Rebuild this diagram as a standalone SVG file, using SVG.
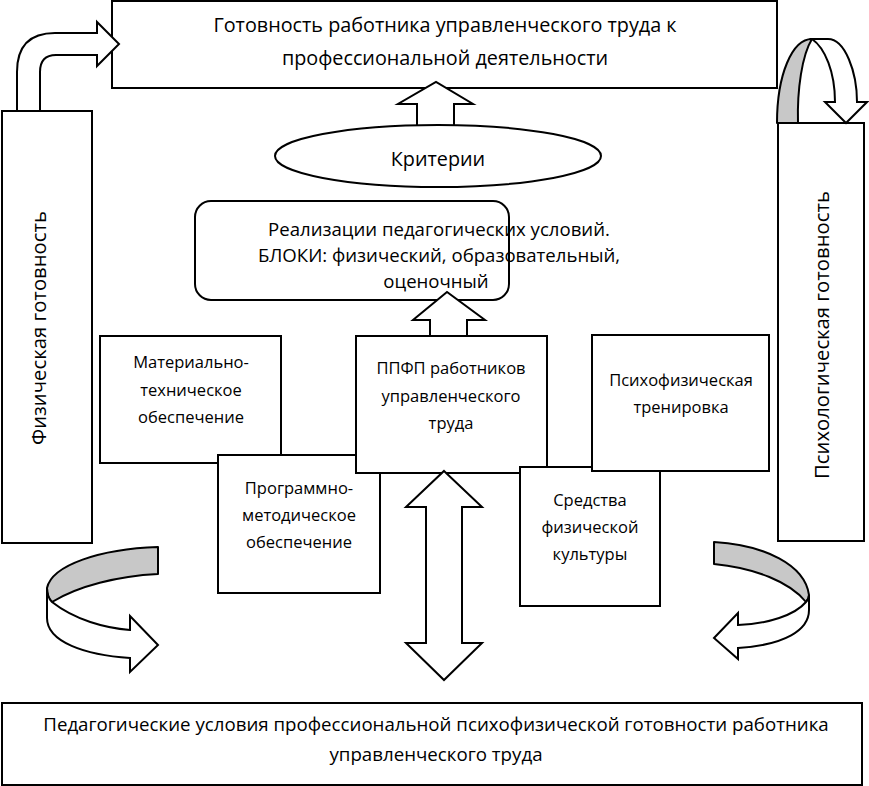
<svg xmlns="http://www.w3.org/2000/svg" width="869" height="786" viewBox="0 0 869 786">
<style>
.b{fill:#fff;stroke:#000;stroke-width:2}
.g{fill:#c8c8c8;stroke:#000;stroke-width:2;stroke-linejoin:round}
.w{fill:#fff;stroke:#000;stroke-width:2;stroke-linejoin:miter}
text{font-family:"Open Sans","Liberation Sans",sans-serif;fill:#000;text-anchor:middle;dominant-baseline:central}
.t{font-size:19.8px}
.v{font-size:20.3px}
.r{font-size:18.6px}
.u{font-size:18.7px}
.s{font-size:16.5px}
</style>
<rect width="869" height="786" fill="#fff"/>
<g id="top">
<rect class="b" x="112" y="1" width="665" height="87"/>
<text class="t" x="445" y="24">Готовность работника управленческого труда к</text>
<text class="t" x="445" y="57">профессиональной деятельности</text>
</g>
<g id="phys">
<rect class="b" x="2" y="111" width="90" height="432"/>
<text class="v" transform="translate(38,328) rotate(-90)">Физическая готовность</text>
</g>
<g id="psych">
<rect class="b" x="778" y="123" width="86" height="418"/>
<text class="v" transform="translate(821,335) rotate(-90)">Психологическая готовность</text>
</g>
<g id="connectors">
<path class="w" d="M17,111 L17,72 Q17,33 55,33 L97,33 L97,22 L119,44 L97,66 L97,55 L56,55 Q40,55 40,72 L40,111 Z"/>
<path class="g" d="M777,123 C777,75 792,39 812,39 C802,55 797,90 798,123 Z"/>
<path class="w" d="M812,39 L828,39 C845,39 857,72 857,102 L867,102 L846,123 L825,102 L835,102 C835,72 825,48 812,39 Z"/>
<path class="w" d="M417,130 L417,104 L398,104 L436,82 L473,104 L454,104 L454,130 Z"/>
</g>
<g id="criteria">
<ellipse class="b" cx="438" cy="156" rx="163" ry="31"/>
<text class="t" x="438" y="158">Критерии</text>
</g>
<g id="realization">
<rect class="b" x="195" y="201" width="314" height="99" rx="16"/>
<text class="r" x="439" y="228">Реализации педагогических условий.</text>
<text class="r" x="439" y="254">БЛОКИ: физический, образовательный,</text>
<text class="r" x="436" y="280">оценочный</text>
</g>
<g id="connectors1">
<path class="w" d="M430,336 L430,320 L413,320 L447,292 L485,320 L467,320 L467,336 Z"/>
</g>
<g id="material">
<rect class="b" x="100" y="336" width="181" height="127"/>
<text class="s" x="191" y="361">Материально-</text>
<text class="s" x="191" y="389">техническое</text>
<text class="s" x="191" y="416">обеспечение</text>
</g>
<g id="program">
<rect class="b" x="218" y="455" width="162" height="138"/>
<text class="s" x="299" y="487">Программно-</text>
<text class="s" x="299" y="514">методическое</text>
<text class="s" x="299" y="541">обеспечение</text>
</g>
<g id="ppfp">
<rect class="b" x="356" y="336" width="191" height="137"/>
<text class="s" x="451" y="367">ППФП работников</text>
<text class="s" x="451" y="395">управленческого</text>
<text class="s" x="451" y="422">труда</text>
</g>
<g id="means">
<rect class="b" x="520" y="467" width="140" height="139"/>
<text class="s" x="590" y="499">Средства</text>
<text class="s" x="590" y="526">физической</text>
<text class="s" x="590" y="553">культуры</text>
</g>
<g id="training">
<rect class="b" x="592" y="335" width="177" height="136"/>
<text class="s" x="681" y="379">Психофизическая</text>
<text class="s" x="681" y="406">тренировка</text>
</g>
<g id="connectors2">
<path class="w" d="M444,471 L482,507 L462,507 L462,643 L482,643 L444,680 L406,643 L426,643 L426,507 L406,507 Z"/>
<path class="g" d="M158,547 C100,549 52,565 47,588 C47,595 49,599 52,602 C78,586 118,576 158,574 Z"/>
<path class="w" d="M52,602 C75,620 105,628 130,630 L130,616 L158,645 L130,672 L130,658 C85,655 47,642 47,618 L47,588 C47,595 49,599 52,602 Z"/>
<path class="g" d="M714,542 C765,545 805,565 809,595 C809,598 808,600 806,602 C790,582 755,568 714,564 Z"/>
<path class="w" d="M806,602 C795,615 768,624 738,625 L738,613 L714,638 L738,659 L738,648 C785,645 809,630 809,610 L809,595 C809,598 808,600 806,602 Z"/>
</g>
<g id="bottom">
<rect class="b" x="2" y="703" width="860" height="82"/>
<text class="u" x="436" y="723">Педагогические условия профессиональной психофизической готовности работника</text>
<text class="u" x="436" y="753">управленческого труда</text>
</g>
</svg>
